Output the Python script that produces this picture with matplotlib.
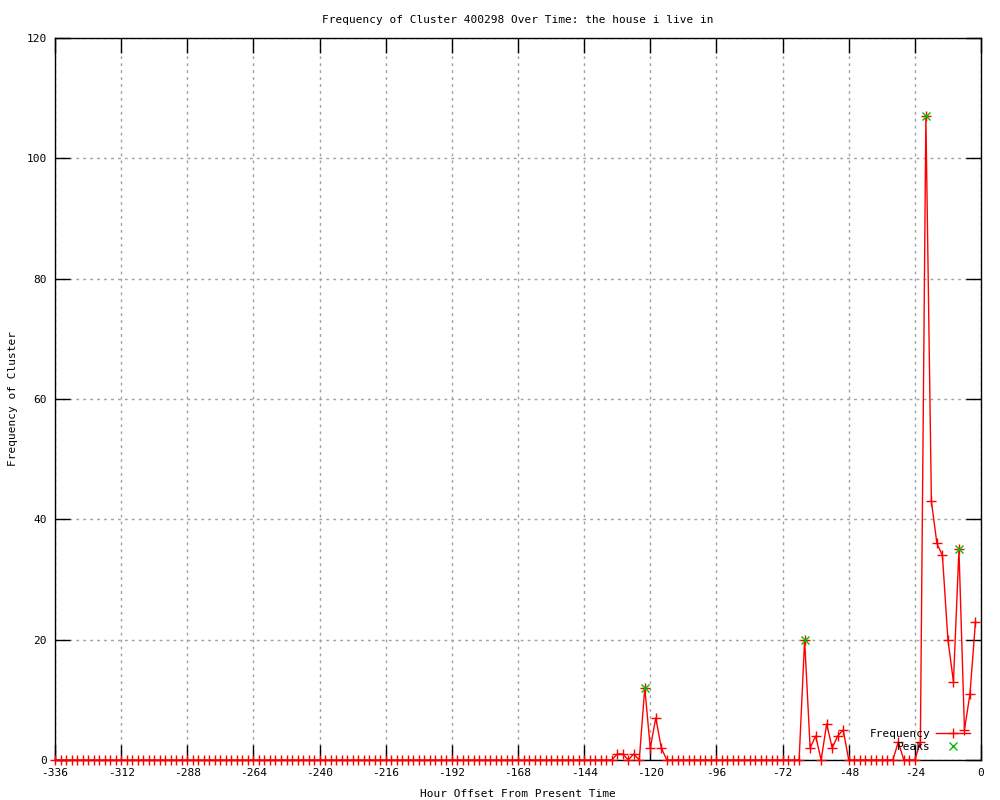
import numpy as np
import matplotlib
matplotlib.use("Agg")
import matplotlib.pyplot as plt

plt.rcParams['font.family'] = ['DejaVu Sans Mono']
plt.rcParams['axes.unicode_minus'] = False

# hours offset, every 2 hours from -336 to -2
hours = np.arange(-336, 0, 2)
freq = np.zeros(len(hours))

# nonzero frequencies
nonzero_hours = [-132, -130, -126, -122, -120, -118, -116,
                 -64, -62, -60, -56, -54, -52, -50,
                 -30, -22, -20, -18, -16, -14, -12, -10, -8, -6, -4, -2]
nonzero_vals = [1, 1, 1, 12, 2, 7, 2,
                20, 2, 4, 6, 2, 4, 5,
                3, 3, 107, 43, 36, 34, 20, 13, 35, 5, 11, 23]
for h, v in zip(nonzero_hours, nonzero_vals):
    freq[hours == h] = v

peak_hours = [-122, -64, -20, -8]
peak_vals = [12, 20, 107, 35]

x_ticks = list(range(-336, 1, 24))
y_ticks = list(range(0, 121, 20))

fig = plt.figure(figsize=(10, 8), dpi=100)
ax = fig.add_axes([0.055, 0.05, 0.926, 0.9025])

ax.plot(hours, freq, color='#ff0000', lw=1, marker='+', ms=7, mew=1,
        label='Frequency', zorder=3, clip_on=False)
ax.plot(peak_hours, peak_vals, ls='none', color='#00c000', marker='x',
        ms=6, mew=1, label='Peaks', zorder=4, clip_on=False)

ax.set_xlim(-336, 0)
ax.set_ylim(0, 120)
ax.set_xticks(x_ticks)
ax.set_yticks(y_ticks)
ax.tick_params(direction='in', length=11, width=1, top=True, right=True,
               labelsize=8, colors='black', pad=6)
ax.grid(True, color='#a0a0a0', ls=(0, (2, 3)), lw=1)
ax.set_axisbelow(True)
for s in ax.spines.values():
    s.set_linewidth(1)
    s.set_zorder(2)

ax.set_title('Frequency of Cluster 400298 Over Time: the house i live in',
             fontsize=8, pad=11)
ax.set_xlabel('Hour Offset From Present Time', fontsize=8, labelpad=8)
ax.set_ylabel('Frequency of Cluster', fontsize=8, labelpad=6)

ax.legend(loc='lower right', bbox_to_anchor=(0.995, 0.002), frameon=False,
          markerfirst=False, fontsize=8, handlelength=3, handletextpad=0.5,
          labelspacing=0.3, borderaxespad=0.2)

fig.savefig('out.png', dpi=100)
